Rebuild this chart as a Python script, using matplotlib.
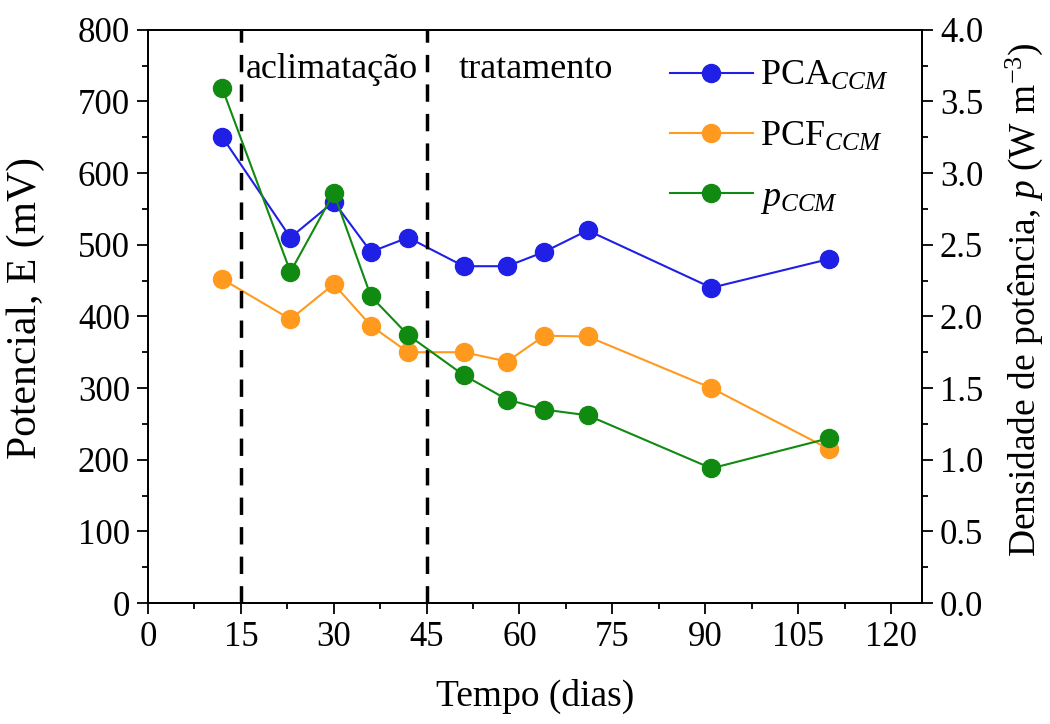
import matplotlib
matplotlib.use("Agg")
import matplotlib.pyplot as plt
from matplotlib.ticker import MultipleLocator, FormatStrFormatter

plt.rcParams['font.family'] = ['Liberation Serif', 'DejaVu Serif']
plt.rcParams['mathtext.fontset'] = 'custom'
plt.rcParams['mathtext.rm'] = 'Liberation Serif'
plt.rcParams['mathtext.it'] = 'Liberation Serif:italic'

# dados
dias = [12, 23, 30, 36, 42, 51, 58, 64, 71, 91, 110]
pca = [650, 510, 560, 490, 510, 470, 470, 490, 520, 440, 480]
pcf = [452, 396, 445, 387, 350, 350, 337, 373, 372, 300, 215]
p_ccm = [3.59, 2.31, 2.86, 2.14, 1.87, 1.59, 1.42, 1.35, 1.31, 0.94, 1.15]
fases = [15, 45]

fig = plt.figure(figsize=(10.5, 7.24), dpi=100)
ax = fig.add_axes([0.141, 0.167, 0.737, 0.792])
ax2 = ax.twinx()

l1, = ax.plot(dias, pca, '-o', color='#1f1fe6', lw=1.5, ms=13, label=r'PCA$_{\mathit{CCM}}$')
l2, = ax.plot(dias, pcf, '-o', color='#ff9a1f', lw=1.5, ms=13, label=r'PCF$_{\mathit{CCM}}$')
l3, = ax2.plot(dias, p_ccm, '-o', color='#118a11', lw=1.5, ms=13, label=r'$\mathit{p}_{\mathit{CCM}}$')

for xv in fases:
    ax.axvline(xv, color='black', lw=2.5, ls=(0, (5, 3.5)))

ax.text(15.8, 733, 'aclimatação', fontsize=26, ha='left', va='baseline')
ax.text(50.2, 733, 'tratamento', fontsize=26, ha='left', va='baseline')

ax.set_xlim(0, 125)
ax.set_ylim(0, 800)
ax2.set_ylim(0, 4.0)
ax.xaxis.set_major_locator(MultipleLocator(15))
ax.xaxis.set_minor_locator(MultipleLocator(7.5))
ax.yaxis.set_major_locator(MultipleLocator(100))
ax.yaxis.set_minor_locator(MultipleLocator(50))
ax2.yaxis.set_major_locator(MultipleLocator(0.5))
ax2.yaxis.set_minor_locator(MultipleLocator(0.25))
ax2.yaxis.set_major_formatter(FormatStrFormatter('%.1f'))

for a in (ax, ax2):
    a.tick_params(which='major', length=8, width=1.3, labelsize=25, direction='out', pad=5)
    a.tick_params(which='minor', length=4.5, width=1.3, direction='out')
    for s in a.spines.values():
        s.set_linewidth(1.3)

ax.set_xlabel('Tempo (dias)', fontsize=27, labelpad=18)
ax.set_ylabel('Potencial, E (mV)', fontsize=30)
ax.yaxis.set_label_coords(-0.133, 0.515)
ax2.set_ylabel(r'Densidade de potência, $\mathit{p}$ (W m$^{-3}$)', fontsize=27)
ax2.yaxis.set_label_coords(1.105, 0.53)

leg = ax.legend(handles=[l1, l2, l3], loc='upper right', bbox_to_anchor=(0.985, 0.985),
                frameon=False, fontsize=26, handlelength=2.3, labelspacing=0.75,
                handletextpad=0.2, borderaxespad=0.2)

fig.savefig('out.png', dpi=100)
